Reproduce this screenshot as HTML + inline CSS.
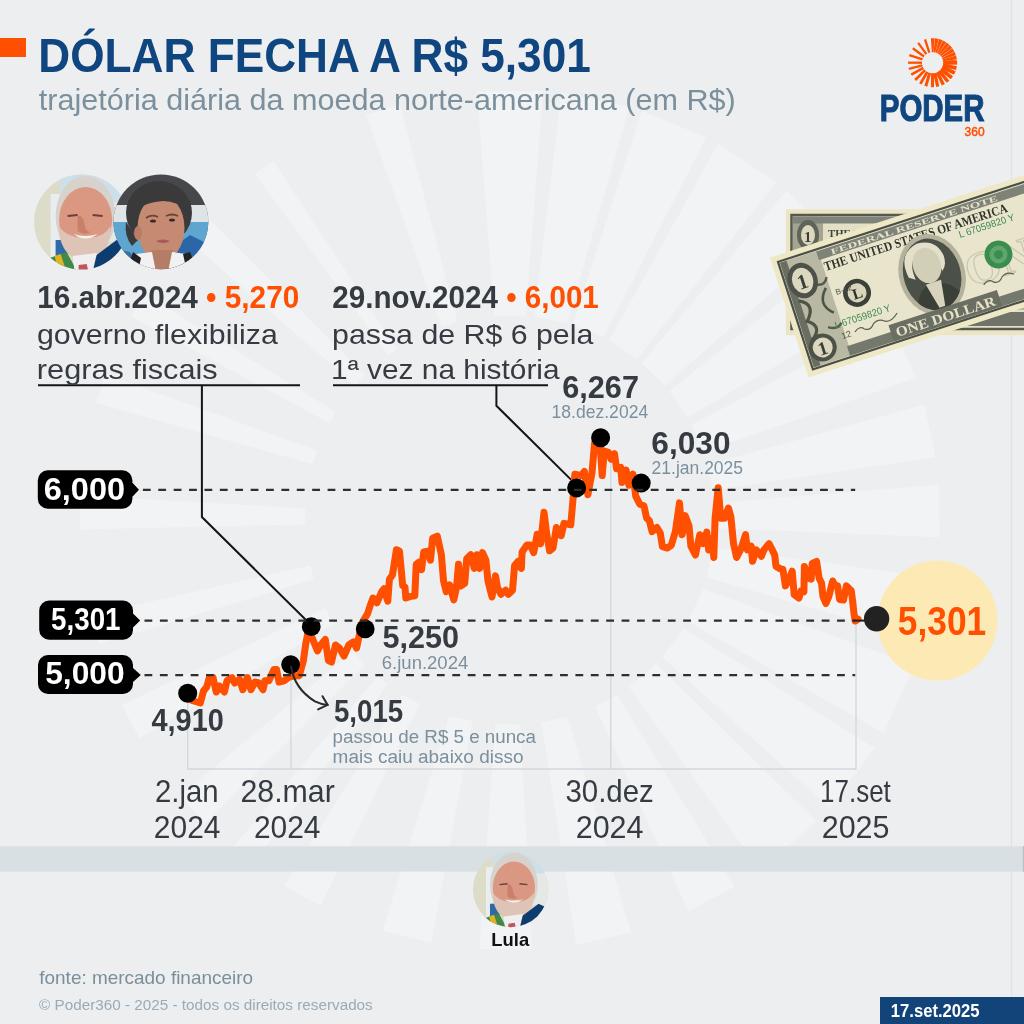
<!DOCTYPE html>
<html><head><meta charset="utf-8"><title>Dólar fecha a R$ 5,301</title>
<style>
html,body{margin:0;padding:0;background:#edeef0;}
body{width:1024px;height:1024px;overflow:hidden;}
svg{display:block;font-family:"Liberation Sans",Arial,sans-serif;}
</style></head>
<body>
<svg width="1024" height="1024" viewBox="0 0 1024 1024">
<defs>
 <clipPath id="cLulaTop"><circle cx="81.6" cy="222" r="47.5"/></clipPath>
 <clipPath id="cHad"><circle cx="160.9" cy="221.8" r="47.4"/></clipPath>
 <clipPath id="cLulaBot"><circle cx="510.7" cy="889.4" r="37.8"/></clipPath>
</defs>
<rect width="1024" height="1024" fill="#edeef0"/>
<g id="rays" fill="#f2f3f5">
<path d="M707.4,464.9 L924.2,404.4 L935.4,457.2 L712.8,490.1Z"/>
<path d="M714.3,503.2 L938.6,484.8 L939.7,537.3 L714.8,528.2Z"/>
<path d="M713.1,547.6 L936.1,578.0 L922.8,640.3 L706.8,577.4Z"/>
<path d="M703.0,589.1 L914.8,665.0 L883.5,733.0 L688.1,621.6Z"/>
<path d="M683.8,628.6 L874.7,747.9 L829.6,807.7 L662.3,657.2Z"/>
<path d="M656.2,663.7 L816.7,821.4 L759.7,870.1 L629.0,686.9Z"/>
<path d="M617.1,694.8 L734.7,886.6 L688.3,911.3 L595.0,706.5Z"/>
<path d="M567.7,716.7 L631.0,932.6 L576.2,944.9 L541.5,722.6Z"/>
<path d="M520.4,724.7 L531.8,949.4 L479.3,948.9 L495.3,724.5Z"/>
<path d="M472.5,721.5 L431.3,942.7 L382.5,930.7 L449.2,715.8Z"/>
<path d="M419.7,704.0 L320.5,906.0 L284.4,886.0 L402.4,694.5Z"/>
<path d="M387.3,684.3 L252.7,864.5 L232.2,848.2 L377.5,676.5Z"/>
<path d="M364.8,664.7 L205.4,823.5 L180.1,795.8 L352.7,651.5Z"/>
<path d="M333.4,624.0 L139.5,738.2 L121.9,705.1 L325.0,608.3Z"/>
<path d="M313.7,579.3 L98.4,644.3 L90.7,615.3 L310.1,565.4Z"/>
<path d="M305.0,524.5 L80.1,529.4 L80.7,495.6 L305.3,508.4Z"/>
<path d="M312.7,464.2 L96.2,402.9 L105.4,374.3 L317.1,450.6Z"/>
<path d="M329.4,423.0 L131.2,316.5 L144.3,293.7 L335.7,412.1Z"/>
<path d="M355.3,385.5 L185.5,237.9 L205.9,215.9 L365.0,375.0Z"/>
<path d="M388.3,355.0 L254.8,173.9 L273.3,161.0 L397.2,348.9Z"/>
<path d="M441.4,326.8 L366.1,114.8 L399.8,104.4 L457.5,321.8Z"/>
<path d="M494.3,315.6 L477.0,91.3 L543.0,91.3 L525.7,315.6Z"/>
<path d="M534.5,316.5 L561.3,93.1 L629.6,107.0 L567.0,323.1Z"/>
<path d="M572.8,324.9 L641.8,110.7 L706.2,137.4 L603.5,337.6Z"/>
<path d="M609.2,340.6 L718.1,143.7 L776.2,182.3 L636.9,359.0Z"/>
<path d="M641.8,363.0 L786.4,190.6 L834.5,237.9 L664.7,385.5Z"/>
<path d="M669.5,391.3 L844.6,250.0 L882.0,304.4 L687.4,417.2Z"/>
<path d="M691.5,424.7 L890.7,320.1 L915.8,377.9 L703.5,452.2Z"/>
</g>
<line x1="1011.5" y1="0" x2="1011.5" y2="1000" stroke="#dfe3e6" stroke-width="1.2"/>

<!-- header -->
<rect x="0" y="38" width="26" height="19" fill="#fe5000"/>

<!-- logo sun -->
<g id="sun" fill="#fe5000"><path d="M922.00,61.55 L908.10,61.55 L908.10,63.85 L922.00,63.85Z"/>
<path d="M922.87,58.33 L909.65,54.04 L908.94,56.22 L922.16,60.52Z"/>
<path d="M924.70,55.54 L913.46,47.37 L912.10,49.23 L923.35,57.40Z"/>
<path d="M927.30,53.45 L919.13,42.20 L917.27,43.56 L925.44,54.80Z"/>
<path d="M930.42,52.26 L926.12,39.04 L923.94,39.75 L928.23,52.97Z"/>
<path d="M922.04,64.21 L908.59,67.71 L909.19,70.04 L922.64,66.53Z"/>
<path d="M922.74,66.78 L910.61,73.59 L911.85,75.79 L923.98,68.99Z"/>
<path d="M924.14,69.22 L914.28,79.02 L916.16,80.91 L926.02,71.12Z"/>
<path d="M926.09,71.18 L919.14,83.22 L921.56,84.62 L928.51,72.58Z"/>
<path d="M928.27,72.49 L924.44,85.85 L927.26,86.66 L931.09,73.29Z"/>
<path d="M931.01,73.29 L930.94,87.19 L934.01,87.21 L934.08,73.31Z"/>
<path d="M933.24,73.40 L936.13,87.00 L939.26,86.33 L936.37,72.74Z"/>
<path d="M935.75,72.96 L941.84,85.45 L944.84,83.99 L938.74,71.50Z"/>
<path d="M937.92,72.03 L946.67,82.83 L949.37,80.65 L940.62,69.85Z"/>
<path d="M939.84,70.64 L950.80,79.20 L953.01,76.37 L942.06,67.81Z"/>
<path d="M941.42,68.87 L954.02,74.75 L955.59,71.36 L943.00,65.49Z"/>
<path d="M942.52,66.92 L956.08,69.97 L956.93,66.20 L943.37,63.14Z"/>
<path d="M943.20,64.70 L957.10,64.70 L957.10,60.70 L943.20,60.70Z"/>
<path d="M931.86,52.13 L930.89,38.26 L934.69,38.29 L933.51,52.14Z"/>
<path d="M933.63,52.15 L934.99,38.32 L938.73,38.98 L935.25,52.44Z"/>
<path d="M935.38,52.47 L939.02,39.06 L942.60,40.34 L936.93,53.02Z"/>
<path d="M937.05,53.08 L942.88,40.46 L946.19,42.32 L938.48,53.88Z"/>
<path d="M938.59,53.95 L946.44,42.48 L949.40,44.87 L939.87,54.99Z"/>
<path d="M939.96,55.07 L949.62,45.08 L952.14,47.92 L941.05,56.31Z"/>
<path d="M941.13,56.41 L952.32,48.16 L954.33,51.39 L942.00,57.81Z"/>
<path d="M942.06,57.92 L954.47,51.65 L955.91,55.17 L942.69,59.44Z"/>
<path d="M942.73,59.57 L956.00,55.46 L956.84,59.16 L943.09,61.17Z"/>
<path d="M943.11,61.30 L956.88,59.46 L957.01,60.56 L943.16,61.78Z"/></g>

<!-- portraits top -->
<g clip-path="url(#cLulaTop)"><g transform="translate(81.6,222)">
  <rect x="-50" y="-50" width="100" height="100" fill="#dddcc9"/>
  <rect x="-22" y="-50" width="72" height="32" fill="#cddfe9"/>
  <rect x="-31" y="-28" width="9" height="78" fill="#e9edef"/>
  <rect x="-26" y="18" width="12" height="16" fill="#2f69a8"/>
  <rect x="26" y="-20" width="24" height="40" fill="#e6e8e6"/>
  <ellipse cx="4" cy="-6" rx="30" ry="40" fill="#d8d2cc"/>
  <ellipse cx="4" cy="-2" rx="26.5" ry="33" fill="#da9782"/>
  <path d="M-4,-6 Q1,-8 3,2 Q4,10 9,10 Q2,14 -4,9Z" fill="#c98068"/>
  <path d="M-23,4 Q-22,36 4,40 Q29,36 29,4 Q22,17 4,15 Q-14,17 -23,4Z" fill="#dec4b6"/>
  <path d="M-8,12 Q4,16 16,12 Q4,21 -8,12Z" fill="#f7f2ec"/>
  <path d="M-14,-6 L-4,-7" stroke="#6b3f35" stroke-width="1.8"/>
  <path d="M11,-7 L21,-6" stroke="#6b3f35" stroke-width="1.8"/>
  <path d="M-32,36 L-15,30 L-4,50 L-36,50Z" fill="#3f8a48"/>
  <path d="M-27,34 L-21,32 L-15,50 L-23,50Z" fill="#e3b323"/>
  <path d="M-9,34 L15,31 L19,50 L-7,50Z" fill="#efefef"/>
  <path d="M-3,43 L5,42 L7,50 L-3,50Z" fill="#c05560"/>
  <path d="M15,33 L35,18 L52,26 L52,50 L11,50Z" fill="#0d3d70"/>
 </g></g>
<g clip-path="url(#cHad)">
  <rect x="110" y="170" width="104" height="104" fill="#46484b"/>
  <rect x="110" y="205" width="104" height="17" fill="#dfe4e7"/>
  <rect x="110" y="222" width="104" height="40" fill="#5ea6d0"/>
  <path d="M172,248 L190,235 L212,246 L212,270 L168,270Z" fill="#2b67a8"/>
  <path d="M110,248 L130,252 L140,270 L110,270Z" fill="#3d6f9c"/>
  <ellipse cx="159" cy="213" rx="33" ry="32" fill="#3a3a3b"/>
  <path d="M126,222 Q124,236 132,246 L138,240Z" fill="#3a3a3b"/>
  <ellipse cx="161" cy="228" rx="23.5" ry="33" fill="#c48a72"/>
  <ellipse cx="138" cy="233" rx="4" ry="7" fill="#b97c64"/>
  <path d="M137,210 Q146,191 166,192 Q184,195 188,212 Q178,201 163,201 Q146,202 137,210Z" fill="#3a3a3b"/>
  <rect x="151" y="250" width="22" height="20" fill="#b67d66"/>
  <path d="M146,218 Q152,214 158,217" stroke="#6a4536" stroke-width="1.8" fill="none"/>
  <path d="M166,216 Q172,213 178,216" stroke="#6a4536" stroke-width="1.8" fill="none"/>
  <ellipse cx="153" cy="221" rx="3" ry="1.6" fill="#3b2a24"/>
  <ellipse cx="172" cy="220" rx="3" ry="1.6" fill="#3b2a24"/>
  <path d="M156,241 Q163,238 170,241 Q163,245 156,241Z" fill="#a8575a"/>
  <path d="M130,272 L136,254 L152,252 L156,272Z" fill="#f1f1f1"/>
  <path d="M168,272 L172,252 L186,254 L190,272Z" fill="#f1f1f1"/>
  <path d="M126,272 L133,252 L141,258 L138,272Z" fill="#222"/>
  <path d="M183,254 L190,252 L198,272 L187,272Z" fill="#222"/>
</g>

<!-- bills -->
<g id="bills"><g>
<rect x="785.8" y="209.2" width="260" height="126" fill="#ebe5c5"/>
<rect x="791.5" y="215" width="250" height="114" fill="#e4e0c6" stroke="#55594f" stroke-width="2.5"/>
<rect x="793" y="216.5" width="30" height="111" fill="#a3a592"/>
<rect x="793" y="216.5" width="250" height="7" fill="#80837a"/>
<ellipse cx="808" cy="235" rx="11" ry="15" fill="#5f6358"/><ellipse cx="808" cy="235" rx="7" ry="10" fill="#dcd8bf"/>
<text x="804" y="242" font-family="Liberation Serif,serif" font-weight="bold" font-size="15" fill="#3a3f37">1</text>
<text x="828" y="237" font-family="Liberation Serif,serif" font-weight="bold" font-size="11" fill="#3e433c" textLength="90" lengthAdjust="spacingAndGlyphs">THE UNITED STA</text>
<rect x="880" y="312" width="160" height="14" fill="#6f7368"/>
<rect x="960" y="296" width="80" height="14" fill="#b8b8a6"/>
</g>
<g transform="translate(769.8,257.7) rotate(-18)">
<rect x="0" y="0" width="300" height="126" fill="#efe8c6"/>
<rect x="6.5" y="6.5" width="300" height="113" fill="#e9e5cc" stroke="#4b5047" stroke-width="2.2"/>
<rect x="8" y="8" width="40" height="110" fill="#b9b9a3"/>
<rect x="8" y="8" width="7" height="110" fill="#6a6e62"/>
<path d="M14,50 Q30,58 16,72 Q30,82 14,92" stroke="#4f5449" stroke-width="3.2" fill="none"/>
<path d="M44,46 Q30,60 44,72" stroke="#4f5449" stroke-width="2.6" fill="none"/>
<path d="M36,40 q8,4 12,-4 M34,84 q8,6 14,0" stroke="#555a4f" stroke-width="2.4" fill="none"/>
<rect x="46" y="8.5" width="260" height="9" fill="#7f8377"/>
<text x="60" y="16" font-family="Liberation Serif,serif" font-weight="bold" font-size="8" fill="#e8e4cc" textLength="175" lengthAdjust="spacingAndGlyphs">FEDERAL RESERVE NOTE</text>
<text x="49" y="30" font-family="Liberation Serif,serif" font-weight="bold" font-size="13" fill="#30352d" textLength="192" lengthAdjust="spacingAndGlyphs">THE UNITED STATES OF AMERICA</text>
<ellipse cx="24.2" cy="31.9" rx="15" ry="18" fill="#4d5249"/><ellipse cx="24.2" cy="31.9" rx="10.5" ry="13" fill="#dcd8bf"/>
<text x="18.5" y="40" font-family="Liberation Serif,serif" font-weight="bold" font-size="21" fill="#3a3f37">1</text>
<ellipse cx="22.6" cy="101.7" rx="14" ry="14" fill="#4d5249"/><ellipse cx="22.6" cy="101.7" rx="10" ry="10" fill="#dcd8bf"/>
<text x="17.5" y="109" font-family="Liberation Serif,serif" font-weight="bold" font-size="19" fill="#3a3f37">1</text>
<circle cx="72.1" cy="60.4" r="14" fill="#3b4038"/><circle cx="72.1" cy="60.4" r="9.5" fill="#d9d5bc"/>
<text x="67.3" y="66" font-family="Liberation Serif,serif" font-weight="bold" font-size="15" fill="#2b2f29">L</text>
<text x="52" y="56" font-family="Liberation Sans,sans-serif" font-size="8" fill="#4c5147">B-12</text>
<text x="44" y="100" font-family="Liberation Sans,sans-serif" font-size="9" fill="#4c5147">12</text>
<path d="M58,97 q6,-5 10,0 q5,4 10,-2 q6,-4 12,1 q6,3 14,-4" stroke="#5b6055" stroke-width="1.2" fill="none"/>
<text x="41" y="88" font-family="Liberation Sans,sans-serif" font-size="10" fill="#3b8a52" textLength="58" lengthAdjust="spacingAndGlyphs">L 67059820 Y</text>
<text x="187" y="40" font-family="Liberation Sans,sans-serif" font-size="10" fill="#3b8a52" textLength="58" lengthAdjust="spacingAndGlyphs">L 67059820 Y</text>
<clipPath id="cPort"><ellipse cx="149.2" cy="66" rx="28.5" ry="36.5"/></clipPath>
<ellipse cx="149.2" cy="66" rx="33" ry="41" fill="#b4b29d"/>
<g clip-path="url(#cPort)">
<rect x="118" y="28" width="64" height="78" fill="#4c5147"/>
<path d="M126,62 Q122,36 144,32 Q164,33 166,52 Q166,62 160,66 L158,50 Q150,42 140,44 Q130,48 132,66Z" fill="#e3dfca"/>
<ellipse cx="147" cy="56" rx="14" ry="18" fill="#d3cfb7"/>
<path d="M122,104 Q128,76 146,74 Q166,76 178,104Z" fill="#3a3f37"/>
<path d="M140,74 L156,74 L152,100 L146,100Z" fill="#d7d3bc"/>
</g>
<text x="182" y="90" font-family="Liberation Serif,serif" font-weight="bold" font-size="46" fill="none" stroke="#c9c6b0" stroke-width="1.2">ON</text>
<circle cx="218.5" cy="67.6" r="14" fill="#3a8c4f"/><circle cx="218.5" cy="67.6" r="9" fill="#5fa66c"/><circle cx="218.5" cy="67.6" r="4.5" fill="#3a8c4f"/>
<path d="M195,92 q6,-5 10,0 q5,4 10,-2 q6,-4 12,1" stroke="#5b6055" stroke-width="1.2" fill="none"/>
<rect x="46" y="108" width="260" height="10" fill="#75796d"/>
<rect x="92" y="101" width="114" height="17" fill="#6b6f63"/>
<text x="97" y="115" font-family="Liberation Serif,serif" font-weight="bold" font-size="14" fill="#e6e2c8" textLength="104" lengthAdjust="spacingAndGlyphs">ONE DOLLAR</text>
</g></g>

<!-- grey band -->
<rect x="0" y="846.2" width="1024" height="25.4" fill="#d9e0e4"/>
<rect x="1022.8" y="846.2" width="1.2" height="25.4" fill="#b9bfc2"/>

<!-- chart frame -->
<g stroke="#cfd8dd" stroke-width="1.3" fill="none">
 <path d="M187.7,700 V769 H856 V600"/>
 <path d="M291,672 V769"/>
 <path d="M610.8,460 V769"/>
</g>


<!-- y labels -->
<g fill="#000">
<path d="M47.8,470.2 H122.4 A10,10 0 0 1 132.4,480.2 V482.8 L139,489.8 L132.4,496.8 V498.8 A10,10 0 0 1 122.4,508.8 H47.8 A10,10 0 0 1 37.8,498.8 V480.2 A10,10 0 0 1 47.8,470.2Z"/>
<path d="M49.2,600.5 H123 A10,10 0 0 1 133,610.5 V613.4 L140.2,620.4 L133,627.4 V629.8 A10,10 0 0 1 123,639.8 H49.2 A10,10 0 0 1 39.2,629.8 V610.5 A10,10 0 0 1 49.2,600.5Z"/>
<path d="M48,655 H123 A10,10 0 0 1 133,665 V667.9 L140.8,674.9 L133,681.9 V684 A10,10 0 0 1 123,694 H48 A10,10 0 0 1 38,684 V665 A10,10 0 0 1 48,655Z"/>
</g>

<!-- connectors -->
<g stroke="#151515" stroke-width="2" fill="none">
 <path d="M38,385.3 H300"/>
 <path d="M201.9,385.3 V517 L306.5,620.5"/>
 <path d="M333,385.3 H548"/>
 <path d="M496.4,385.3 V405.8 L572,480.6"/>
</g>

<!-- yellow circle -->
<circle cx="937.5" cy="620.5" r="60" fill="#fde9b3"/>

<!-- chart line -->
<path d="M188.0,694.0 L192.0,700.5 L200.3,703.0 L203.5,691.0 L206.7,687.0 L209.2,678.0 L213.0,677.6 L216.2,692.0 L219.4,686.0 L224.4,692.0 L227.0,680.8 L232.0,677.6 L234.6,683.0 L239.7,679.5 L242.8,689.7 L247.3,677.6 L251.0,689.7 L255.0,682.0 L258.7,683.0 L263.0,689.7 L265.0,680.8 L268.9,680.8 L274.0,669.4 L276.5,669.4 L279.0,682.0 L284.0,680.8 L289.2,677.0 L294.0,676.0 L299.3,675.7 L303.4,660.6 L305.8,643.4 L308.0,632.5 L311.2,635.6 L317.5,651.0 L320.6,645.0 L325.3,639.5 L328.4,660.6 L331.5,662.0 L335.5,645.0 L339.4,648.0 L344.0,656.0 L348.8,645.0 L353.4,641.9 L356.6,648.0 L358.9,637.0 L362.8,621.6 L367.5,613.8 L370.6,604.4 L373.0,598.0 L376.9,602.8 L381.6,591.9 L383.9,588.8 L387.8,601.2 L389.4,579.4 L392.5,574.7 L396.4,549.7 L399.5,551.2 L402.7,585.6 L405.0,587.2 L405.8,598.0 L409.7,596.6 L414.8,595.7 L416.2,564.3 L418.9,562.2 L421.6,569.7 L423.7,552.0 L427.8,551.3 L430.5,560.2 L432.6,538.3 L437.3,536.2 L441.4,554.7 L443.5,580.7 L446.2,591.6 L449.6,584.8 L453.8,599.8 L456.5,587.5 L458.5,564.3 L460.6,586.1 L464.7,583.4 L466.7,558.8 L470.8,554.7 L474.3,568.4 L477.0,554.7 L479.7,568.4 L482.5,552.6 L485.9,560.2 L487.9,580.7 L492.0,597.0 L495.5,575.9 L497.5,587.5 L500.9,594.3 L505.7,590.2 L508.4,594.3 L512.5,590.2 L514.6,565.6 L518.0,561.5 L521.4,568.4 L522.1,552.0 L526.9,545.1 L530.3,545.1 L533.7,552.6 L537.2,534.2 L540.6,543.8 L544.0,512.3 L546.8,534.4 L549.6,550.8 L553.0,548.0 L556.4,527.5 L561.2,535.7 L563.9,523.4 L570.8,524.8 L572.8,501.6 L574.9,474.2 L581.0,475.6 L584.4,471.5 L587.9,494.7 L592.0,472.9 L594.5,443.5 L600.0,444.0 L602.2,475.6 L604.3,451.0 L608.4,452.3 L611.1,459.2 L614.5,453.7 L616.6,468.8 L620.7,467.4 L622.0,482.4 L626.1,470.1 L628.9,485.2 L633.0,474.2 L635.7,496.1 L639.8,504.3 L643.9,505.7 L646.6,518.0 L649.4,520.7 L652.1,531.6 L656.9,527.5 L660.3,533.0 L662.4,546.7 L667.2,548.0 L671.3,545.3 L675.4,531.6 L679.5,502.9 L682.1,534.7 L685.2,515.6 L689.0,525.8 L690.9,546.1 L695.4,555.0 L699.8,534.7 L703.0,543.6 L706.8,532.1 L708.7,549.9 L711.9,538.5 L713.8,557.5 L715.1,518.2 L718.2,487.7 L720.8,518.2 L724.6,518.2 L728.4,508.0 L730.9,516.9 L733.5,543.6 L736.6,557.5 L741.1,548.6 L745.5,534.7 L747.4,549.9 L751.2,546.1 L752.5,561.3 L756.3,549.9 L761.4,556.2 L763.9,549.9 L769.0,543.6 L771.6,548.6 L774.7,555.0 L776.0,566.4 L780.4,568.9 L782.9,569.3 L785.4,585.9 L787.8,582.0 L792.2,571.2 L794.2,594.7 L799.0,598.1 L801.0,590.8 L803.9,591.8 L804.4,566.4 L808.3,578.1 L811.2,579.1 L812.2,563.4 L816.6,561.5 L819.1,578.1 L821.5,583.0 L823.0,596.6 L825.9,603.5 L828.8,596.6 L832.7,581.0 L834.7,585.0 L837.6,585.9 L839.6,599.6 L843.5,600.0 L846.4,585.9 L851.3,590.8 L852.3,598.6 L854.2,615.2 L855.2,621.0 L858.1,619.1" fill="none" stroke="#fe5000" stroke-width="7" stroke-linejoin="round" stroke-linecap="round"/>

<!-- end marker -->
<path d="M852.6,620.6 H870" stroke="#1e1e1e" stroke-width="2"/>
<circle cx="876.6" cy="618.7" r="12.7" fill="#222"/>

<!-- dots -->
<g fill="#000">
 <circle cx="187.7" cy="693.2" r="9.5"/>
 <circle cx="290.6" cy="664.6" r="9.4"/>
 <circle cx="311.25" cy="626.7" r="9.4"/>
 <circle cx="365.2" cy="628.9" r="9.4"/>
 <circle cx="576.6" cy="487.9" r="9.5"/>
 <circle cx="600.6" cy="437.7" r="9.5"/>
 <circle cx="641.2" cy="483.1" r="9.5"/>
</g>

<!-- dashed lines -->
<g stroke="#2f2f2f" stroke-width="2.2" stroke-dasharray="7.8 7.59" fill="none">
 <path d="M142.9,489.8 H855.2"/>
 <path d="M144.5,620.6 H855.2"/>
 <path d="M144.5,675.1 H855.2"/>
</g>

<!-- 5,015 arrow -->
<g stroke="#2a2a2a" stroke-width="2" fill="none" stroke-linecap="round">
 <path d="M291.1,666.5 C293,680 300,692 314.9,701.4 C319,703.5 323,704.4 327.6,704.9"/>
 <path d="M322.5,696.2 L327.6,704.9 L318.1,709.4"/>
</g>

<!-- bottom lula -->
<g clip-path="url(#cLulaBot)"><g transform="translate(510.7,889.4) scale(0.796)">
  <rect x="-50" y="-50" width="100" height="100" fill="#dddcc9"/>
  <rect x="-22" y="-50" width="72" height="32" fill="#cddfe9"/>
  <rect x="-31" y="-28" width="9" height="78" fill="#e9edef"/>
  <rect x="-26" y="18" width="12" height="16" fill="#2f69a8"/>
  <rect x="26" y="-20" width="24" height="40" fill="#e6e8e6"/>
  <ellipse cx="4" cy="-6" rx="30" ry="40" fill="#d8d2cc"/>
  <ellipse cx="4" cy="-2" rx="26.5" ry="33" fill="#da9782"/>
  <path d="M-4,-6 Q1,-8 3,2 Q4,10 9,10 Q2,14 -4,9Z" fill="#c98068"/>
  <path d="M-23,4 Q-22,36 4,40 Q29,36 29,4 Q22,17 4,15 Q-14,17 -23,4Z" fill="#dec4b6"/>
  <path d="M-8,12 Q4,16 16,12 Q4,21 -8,12Z" fill="#f7f2ec"/>
  <path d="M-14,-6 L-4,-7" stroke="#6b3f35" stroke-width="1.8"/>
  <path d="M11,-7 L21,-6" stroke="#6b3f35" stroke-width="1.8"/>
  <path d="M-32,36 L-15,30 L-4,50 L-36,50Z" fill="#3f8a48"/>
  <path d="M-27,34 L-21,32 L-15,50 L-23,50Z" fill="#e3b323"/>
  <path d="M-9,34 L15,31 L19,50 L-7,50Z" fill="#efefef"/>
  <path d="M-3,43 L5,42 L7,50 L-3,50Z" fill="#c05560"/>
  <path d="M15,33 L35,18 L52,26 L52,50 L11,50Z" fill="#0d3d70"/>
 </g></g>

<!-- date box -->
<rect x="880" y="997" width="144" height="27" fill="#134479"/>

<text x="38.24" y="71.60" font-size="47.68" font-weight="bold" textLength="552.63" lengthAdjust="spacingAndGlyphs" xml:space="preserve"><tspan fill="#0f4680">DÓLAR FECHA A R$ 5,301</tspan></text>
<text x="38.80" y="109.90" font-size="29.57" font-weight="normal" textLength="696.90" lengthAdjust="spacingAndGlyphs" xml:space="preserve"><tspan fill="#7b909c">trajetória diária da moeda norte-americana (em R$)</tspan></text>
<text x="37.24" y="308.30" font-size="31.01" font-weight="bold" textLength="262.05" lengthAdjust="spacingAndGlyphs" xml:space="preserve"><tspan fill="#363b42">16.abr.2024 </tspan><tspan fill="#fe5000">• 5,270</tspan></text>
<text x="36.90" y="344.00" font-size="27.60" font-weight="normal" textLength="240.98" lengthAdjust="spacingAndGlyphs" xml:space="preserve"><tspan fill="#363b42">governo flexibiliza</tspan></text>
<text x="36.89" y="379.40" font-size="27.60" font-weight="normal" textLength="180.80" lengthAdjust="spacingAndGlyphs" xml:space="preserve"><tspan fill="#363b42">regras fiscais</tspan></text>
<text x="332.24" y="308.30" font-size="31.01" font-weight="bold" textLength="266.58" lengthAdjust="spacingAndGlyphs" xml:space="preserve"><tspan fill="#363b42">29.nov.2024 </tspan><tspan fill="#fe5000">• 6,001</tspan></text>
<text x="332.10" y="344.00" font-size="27.60" font-weight="normal" textLength="261.18" lengthAdjust="spacingAndGlyphs" xml:space="preserve"><tspan fill="#363b42">passa de R$ 6 pela</tspan></text>
<text x="331.04" y="379.40" font-size="27.60" font-weight="normal" textLength="228.56" lengthAdjust="spacingAndGlyphs" xml:space="preserve"><tspan fill="#363b42">1ª vez na história</tspan></text>
<text x="43.77" y="499.80" font-size="31.59" font-weight="bold" textLength="81.31" lengthAdjust="spacingAndGlyphs" xml:space="preserve"><tspan fill="#ffffff">6,000</tspan></text>
<text x="51.10" y="629.70" font-size="30.43" font-weight="bold" textLength="69.43" lengthAdjust="spacingAndGlyphs" xml:space="preserve"><tspan fill="#ffffff">5,301</tspan></text>
<text x="45.20" y="684.00" font-size="30.43" font-weight="bold" textLength="79.51" lengthAdjust="spacingAndGlyphs" xml:space="preserve"><tspan fill="#ffffff">5,000</tspan></text>
<text x="562.23" y="397.80" font-size="31.74" font-weight="bold" textLength="76.79" lengthAdjust="spacingAndGlyphs" xml:space="preserve"><tspan fill="#363b42">6,267</tspan></text>
<text x="551.58" y="417.90" font-size="19.13" font-weight="normal" textLength="96.58" lengthAdjust="spacingAndGlyphs" xml:space="preserve"><tspan fill="#7b909c">18.dez.2024</tspan></text>
<text x="651.28" y="453.50" font-size="31.16" font-weight="bold" textLength="79.24" lengthAdjust="spacingAndGlyphs" xml:space="preserve"><tspan fill="#363b42">6,030</tspan></text>
<text x="651.60" y="473.80" font-size="18.70" font-weight="normal" textLength="91.47" lengthAdjust="spacingAndGlyphs" xml:space="preserve"><tspan fill="#7b909c">21.jan.2025</tspan></text>
<text x="382.60" y="648.30" font-size="31.16" font-weight="bold" textLength="76.51" lengthAdjust="spacingAndGlyphs" xml:space="preserve"><tspan fill="#363b42">5,250</tspan></text>
<text x="381.80" y="668.60" font-size="18.84" font-weight="normal" textLength="86.46" lengthAdjust="spacingAndGlyphs" xml:space="preserve"><tspan fill="#7b909c">6.jun.2024</tspan></text>
<text x="151.50" y="731.30" font-size="30.43" font-weight="bold" textLength="72.37" lengthAdjust="spacingAndGlyphs" xml:space="preserve"><tspan fill="#363b42">4,910</tspan></text>
<text x="334.00" y="722.10" font-size="30.72" font-weight="bold" textLength="69.18" lengthAdjust="spacingAndGlyphs" xml:space="preserve"><tspan fill="#363b42">5,015</tspan></text>
<text x="332.60" y="742.90" font-size="18.80" font-weight="normal" textLength="203.34" lengthAdjust="spacingAndGlyphs" xml:space="preserve"><tspan fill="#7b909c">passou de R$ 5 e nunca</tspan></text>
<text x="332.59" y="763.10" font-size="18.80" font-weight="normal" textLength="190.86" lengthAdjust="spacingAndGlyphs" xml:space="preserve"><tspan fill="#7b909c">mais caiu abaixo disso</tspan></text>
<text x="897.82" y="634.50" font-size="40.29" font-weight="bold" textLength="88.42" lengthAdjust="spacingAndGlyphs" xml:space="preserve"><tspan fill="#fe5000">5,301</tspan></text>
<text x="154.96" y="801.60" font-size="31.30" font-weight="normal" textLength="63.66" lengthAdjust="spacingAndGlyphs" xml:space="preserve"><tspan fill="#363b42">2.jan</tspan></text>
<text x="153.85" y="837.50" font-size="31.59" font-weight="normal" textLength="66.58" lengthAdjust="spacingAndGlyphs" xml:space="preserve"><tspan fill="#363b42">2024</tspan></text>
<text x="240.43" y="801.60" font-size="31.30" font-weight="normal" textLength="94.38" lengthAdjust="spacingAndGlyphs" xml:space="preserve"><tspan fill="#363b42">28.mar</tspan></text>
<text x="253.95" y="837.50" font-size="31.59" font-weight="normal" textLength="66.58" lengthAdjust="spacingAndGlyphs" xml:space="preserve"><tspan fill="#363b42">2024</tspan></text>
<text x="565.46" y="801.60" font-size="31.30" font-weight="normal" textLength="88.35" lengthAdjust="spacingAndGlyphs" xml:space="preserve"><tspan fill="#363b42">30.dez</tspan></text>
<text x="575.73" y="837.50" font-size="31.59" font-weight="normal" textLength="67.81" lengthAdjust="spacingAndGlyphs" xml:space="preserve"><tspan fill="#363b42">2024</tspan></text>
<text x="820.04" y="801.60" font-size="31.30" font-weight="normal" textLength="70.81" lengthAdjust="spacingAndGlyphs" xml:space="preserve"><tspan fill="#363b42">17.set</tspan></text>
<text x="821.73" y="837.50" font-size="31.59" font-weight="normal" textLength="67.81" lengthAdjust="spacingAndGlyphs" xml:space="preserve"><tspan fill="#363b42">2025</tspan></text>
<text x="491.35" y="946.40" font-size="19.28" font-weight="bold" textLength="37.78" lengthAdjust="spacingAndGlyphs" xml:space="preserve"><tspan fill="#111111">Lula</tspan></text>
<text x="39.30" y="983.90" font-size="18.50" font-weight="normal" textLength="213.70" lengthAdjust="spacingAndGlyphs" xml:space="preserve"><tspan fill="#7a8f9b">fonte: mercado financeiro</tspan></text>
<text x="39.00" y="1009.80" font-size="15.51" font-weight="normal" textLength="333.75" lengthAdjust="spacingAndGlyphs" xml:space="preserve"><tspan fill="#9aabb6">© Poder360 - 2025 - todos os direitos reservados</tspan></text>
<text x="890.76" y="1016.50" font-size="17.68" font-weight="bold" textLength="88.88" lengthAdjust="spacingAndGlyphs" xml:space="preserve"><tspan fill="#ffffff">17.set.2025</tspan></text>
<text x="879.74" y="121.20" font-size="37.68" font-weight="bold" textLength="104.83" lengthAdjust="spacingAndGlyphs" xml:space="preserve" stroke="#0f4680" stroke-width="1.1"><tspan fill="#0f4680">PODER</tspan></text>
<text x="964.60" y="136.40" font-size="13.62" font-weight="normal" textLength="20.02" lengthAdjust="spacingAndGlyphs" xml:space="preserve" stroke="#fe5000" stroke-width="0.5"><tspan fill="#fe5000">360</tspan></text>
</svg>
</body></html>
